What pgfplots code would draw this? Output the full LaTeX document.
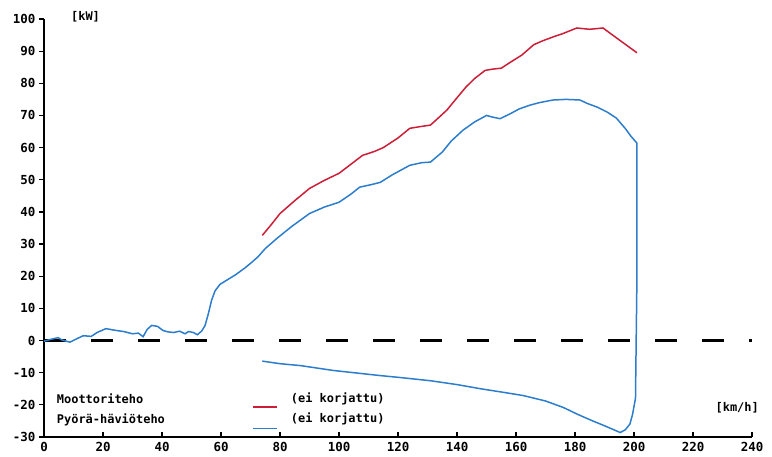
\documentclass[border=0pt]{standalone}
\usepackage{pgfplots}
\pgfplotsset{compat=1.18}
\usepackage{fontspec}
\setmainfont{DejaVu Sans Mono}
\setmonofont{DejaVu Sans Mono}
\definecolor{motred}{RGB}{205,30,55}
\definecolor{lossblue}{RGB}{45,125,205}
\begin{document}
\begin{tikzpicture}
\useasboundingbox (0,0) rectangle (772bp,457bp);
\begin{axis}[
  at={(44bp,20bp)}, anchor=south west,
  scale only axis,
  width=708bp, height=418bp,
  xmin=0, xmax=240, ymin=-30, ymax=100,
  axis lines*=left,
  axis line style={line width=1.8bp},
  xtick={0,20,...,240}, ytick={-30,-20,...,100},
  x tick style={line width=1.2bp, black}, y tick style={line width=1.2bp, black},
  xtick align=inside, ytick align=outside,
  major tick length=5bp,
  tick label style={font=\fontsize{12.5}{14}\selectfont\bfseries},
  /pgf/number format/assume math mode=true,
  xticklabel style={yshift=-2bp},
  clip=false,
]
% zero line
\addplot[black, line width=2.2bp, dash pattern=on 22bp off 25bp] coordinates {(0,0) (240,0)};
% Moottoriteho
\addplot[motred, line width=1.5bp] coordinates {
(74,32.7) (77,36) (80,39.5) (85,43.5) (90,47.3) (95,49.8) (100,52) (104,54.8)
(108,57.6) (112,58.8) (115,60) (120,63) (124,66) (128,66.6) (131,67) (134,69.5)
(136.6,71.7) (140,75.5) (143,78.8) (146,81.5) (149.5,84) (152,84.4) (155,84.7)
(158,86.5) (162,88.8) (166,92) (169,93.2) (172.5,94.4) (176,95.5) (180.6,97.2)
(185,96.8) (189.5,97.2) (192,95.5) (195,93.5) (198,91.5) (201,89.5)
};
% Pyora-haviteho
\addplot[lossblue, line width=1.5bp] coordinates {
(0,-0.2) (2,0.3) (4.8,0.9) (6,0.2) (8.8,-0.5) (11,0.5) (13.3,1.5) (16,1.3) (18,2.5)
(21,3.7) (24,3.2) (27,2.8) (30,2.1) (32,2.3) (33.6,1.2) (35,3.5) (36.5,4.7)
(38.5,4.4) (40.4,3.1) (42,2.7) (43.9,2.5) (46,2.9) (47.8,2.1) (49,2.8) (50.6,2.5)
(52,1.8) (53.5,3.0) (54.6,4.7) (55.7,8.3) (56.8,12.5) (58,15.5) (59.7,17.5)
(62,18.8) (65,20.5) (68,22.5) (70,24) (72.5,26) (75,28.6) (79,31.8) (84,35.5)
(90,39.5) (95,41.5) (100,43) (104,45.5) (107,47.7) (111,48.5) (114,49.2)
(118,51.5) (121,53) (124,54.5) (128,55.3) (131,55.5) (135,58.6) (138,62)
(142,65.4) (146,68) (150,70) (152,69.5) (154.6,69) (158,70.5) (161,72)
(164.7,73.2) (168,74) (172.5,74.8) (177,75) (181.7,74.8) (184,73.8) (187.5,72.6)
(191,71) (194,69.2) (197,66) (199,63.5) (201,61.4) (201,20) (200.5,-18)
(199.5,-23) (198.6,-26) (197,-27.8) (195.3,-28.6) (190,-26.5) (186,-25)
(181,-23) (176,-20.8) (170,-18.8) (162.4,-17.1) (155,-16) (148,-15) (140,-13.7)
(131,-12.5) (120.7,-11.5) (114,-10.9) (105,-10) (98,-9.3) (87,-7.8) (80,-7.2)
(74,-6.4)
};
% labels and legend
\node[anchor=west, font=\fontsize{12}{14}\selectfont\bfseries] at (axis cs:8,100.6) {[kW]};
\node[anchor=east, font=\fontsize{12}{14}\selectfont\bfseries] at (axis cs:243.5,-20.9) {[km/h]};
\node[anchor=west, font=\fontsize{12}{14}\selectfont\bfseries] at (axis cs:3.2,-18) {Moottoriteho};
\node[anchor=west, font=\fontsize{12}{14}\selectfont\bfseries] at (axis cs:3.2,-24.6) {Pyörä-häviöteho};
\node[anchor=west, font=\fontsize{12}{14}\selectfont\bfseries] at (axis cs:82.5,-18) {(ei korjattu)};
\node[anchor=west, font=\fontsize{12}{14}\selectfont\bfseries] at (axis cs:82.5,-24.4) {(ei korjattu)};
\draw[motred, line width=1.5bp] (axis cs:70.8,-20.6) -- (axis cs:79,-20.6);
\draw[lossblue, line width=1.5bp] (axis cs:70.8,-27.4) -- (axis cs:79,-27.4);
\end{axis}
\end{tikzpicture}
\end{document}
